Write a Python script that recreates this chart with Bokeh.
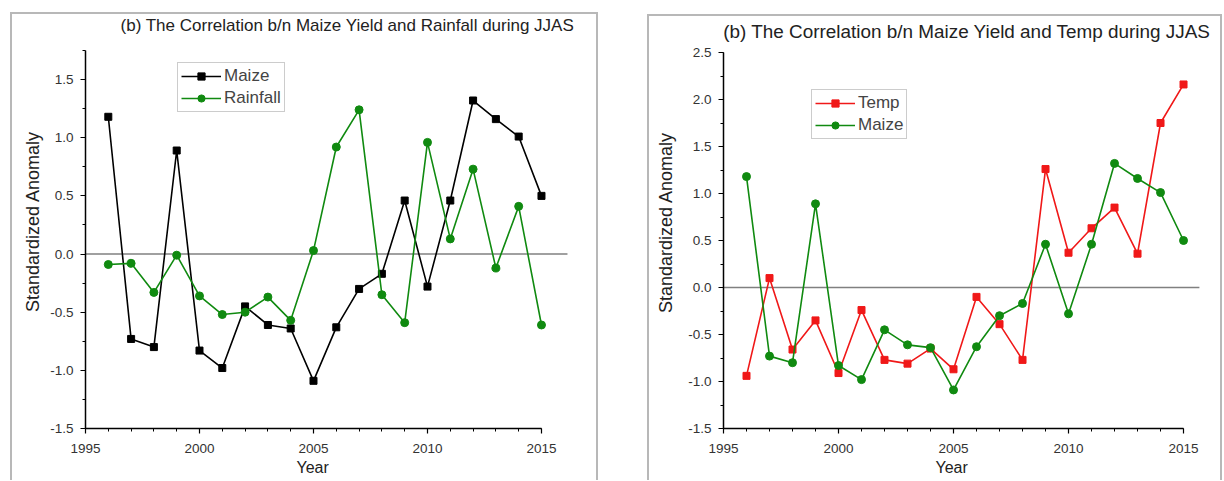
from bokeh.plotting import figure
from bokeh.layouts import row, column
from bokeh.models import (Label, Legend, LegendItem, FixedTicker, Spacer, Title,
                          PrintfTickFormatter)
from bokeh.embed import file_html
from bokeh.resources import INLINE

years = list(range(1996, 2016))
maize = [1.18, -0.73, -0.80, 0.89, -0.83, -0.98, -0.45, -0.61, -0.64, -1.09,
         -0.63, -0.30, -0.17, 0.46, -0.28, 0.46, 1.32, 1.16, 1.01, 0.50]
rainfall = [-0.09, -0.08, -0.33, -0.01, -0.36, -0.52, -0.50, -0.37, -0.57, 0.03,
            0.92, 1.24, -0.35, -0.59, 0.96, 0.13, 0.73, -0.12, 0.41, -0.61]
temp = [-0.94, 0.10, -0.66, -0.35, -0.91, -0.24, -0.77, -0.81, -0.65, -0.87,
        -0.10, -0.39, -0.77, 1.26, 0.37, 0.63, 0.85, 0.36, 1.75, 2.16]

x_ticks = [1995, 2000, 2005, 2010, 2015]
left_y_ticks = [-1.5, -1.0, -0.5, 0.0, 0.5, 1.0, 1.5]
right_y_ticks = [-1.5, -1.0, -0.5, 0.0, 0.5, 1.0, 1.5, 2.0, 2.5]

title_left = "(b) The Correlation b/n Maize Yield and Rainfall during JJAS"
title_right = "(b) The Correlation b/n Maize Yield and Temp during JJAS"

FONT = "Liberation Sans"
GREEN = "#108a10"
RED = "#f01818"
BORDER = {"border-left": "2px solid #b8b8b8", "border-top": "2px solid #b8b8b8",
          "border-right": "2px solid #b8b8b8", "border-bottom": "none",
          "box-sizing": "border-box"}


def style_axes(p, yticks, ybounds, ylabel_standoff, zero_end, year_offset):
    for ax in (p.xaxis[0], p.yaxis[0]):
        ax.axis_line_width = 1.5
        ax.axis_line_color = "black"
        ax.major_tick_line_color = "black"
        ax.minor_tick_line_color = "black"
        ax.major_tick_line_width = 1.2
        ax.major_tick_out = 5
        ax.major_tick_in = 0
        ax.minor_tick_out = 3
        ax.minor_tick_in = 0
        ax.major_label_text_font = FONT
        ax.major_label_text_font_size = "13.5px"
        ax.major_label_text_color = "#333333"
        ax.axis_label_text_font = FONT
        ax.axis_label_text_font_style = "normal"
        ax.axis_label_text_color = "#222222"
    p.xaxis[0].ticker = FixedTicker(ticks=x_ticks, minor_ticks=list(range(1995, 2016)))
    p.xaxis[0].bounds = (1995, 2015)
    p.xaxis[0].major_label_standoff = 10
    p.yaxis[0].bounds = ybounds
    p.yaxis[0].axis_label = "Standardized Anomaly"
    p.yaxis[0].axis_label_text_font_size = "18px"
    p.yaxis[0].major_label_standoff = 7
    p.yaxis[0].axis_label_standoff = ylabel_standoff
    p.yaxis[0].formatter = PrintfTickFormatter(format="%.1f")
    p.yaxis[0].major_label_overrides = {t: f"{t:.1f}" for t in yticks}
    p.xgrid.visible = False
    p.ygrid.visible = False
    p.outline_line_color = None
    # x-axis title "Year", centred under the 1995-2015 axis span
    p.add_layout(Title(text="Year", align="left", offset=year_offset, standoff=3,
                       text_font=FONT, text_font_size="16px", text_font_style="normal",
                       text_color="#222222"), "below")
    # horizontal zero reference line
    p.segment(x0=[1995], y0=[0], x1=[zero_end], y1=[0], line_color="#808080", line_width=1.5)


def make_legend(items, loc):
    return Legend(items=items, location=loc, margin=0, padding=3, spacing=2,
                  glyph_width=40, glyph_height=18, label_height=18, label_standoff=3,
                  label_text_font=FONT, label_text_font_size="17px",
                  border_line_color="#999999", border_line_width=1.5,
                  background_fill_color="white", background_fill_alpha=1)


# ---------------- left panel ----------------
p1 = figure(width=588, height=468, x_range=(1995, 2017.15), y_range=(-1.5, 2.0595),
            output_backend="svg", toolbar_location=None,
            min_border_left=73, min_border_right=10, min_border_top=0,
            min_border_bottom=54, styles=BORDER)
style_axes(p1, left_y_ticks, (-1.5, 1.75), 4, 2016.14, 211)
p1.yaxis[0].ticker = FixedTicker(ticks=left_y_ticks,
                                 minor_ticks=[v / 4 for v in range(-6, 8)])

l1 = p1.line(years, maize, line_color="black", line_width=1.6)
s1 = p1.scatter(years, maize, marker="square", size=7, fill_color="black", line_color="black")
l2 = p1.line(years, rainfall, line_color=GREEN, line_width=1.6)
s2 = p1.scatter(years, rainfall, marker="circle", size=8, fill_color=GREEN, line_color=GREEN)

p1.add_layout(make_legend([LegendItem(label="Maize", renderers=[l1, s1]),
                           LegendItem(label="Rainfall", renderers=[l2, s2])], (92, 316)))
p1.add_layout(Label(x=2006.49, y=1.965, text=title_left, text_align="center",
                    text_baseline="middle", text_font=FONT, text_font_size="17px",
                    text_color="#222222"))

# ---------------- right panel ----------------
p2 = figure(width=575, height=466, x_range=(1995, 2016.39), y_range=(-1.5, 2.883),
            output_backend="svg", toolbar_location=None,
            min_border_left=74, min_border_right=9, min_border_top=0,
            min_border_bottom=54, styles=BORDER)
style_axes(p2, right_y_ticks, (-1.5, 2.5), 9, 2015.69, 212)
p2.yaxis[0].ticker = FixedTicker(ticks=right_y_ticks,
                                 minor_ticks=[v / 4 for v in range(-6, 11)])

l3 = p2.line(years, temp, line_color=RED, line_width=1.6)
s3 = p2.scatter(years, temp, marker="square", size=7, fill_color=RED, line_color=RED)
l4 = p2.line(years, maize, line_color=GREEN, line_width=1.6)
s4 = p2.scatter(years, maize, marker="circle", size=8, fill_color=GREEN, line_color=GREEN)

p2.add_layout(make_legend([LegendItem(label="Temp", renderers=[l3, s3]),
                           LegendItem(label="Maize", renderers=[l4, s4])], (88, 289)))
p2.add_layout(Label(x=2005.59, y=2.723, text=title_right, text_align="center",
                    text_baseline="middle", text_font=FONT, text_font_size="18.9px",
                    text_color="#222222"))

layout = row(Spacer(width=10),
             column(Spacer(height=12), p1),
             Spacer(width=49),
             column(Spacer(height=14), p2))

open("out.html", "w").write(file_html(layout, INLINE))
